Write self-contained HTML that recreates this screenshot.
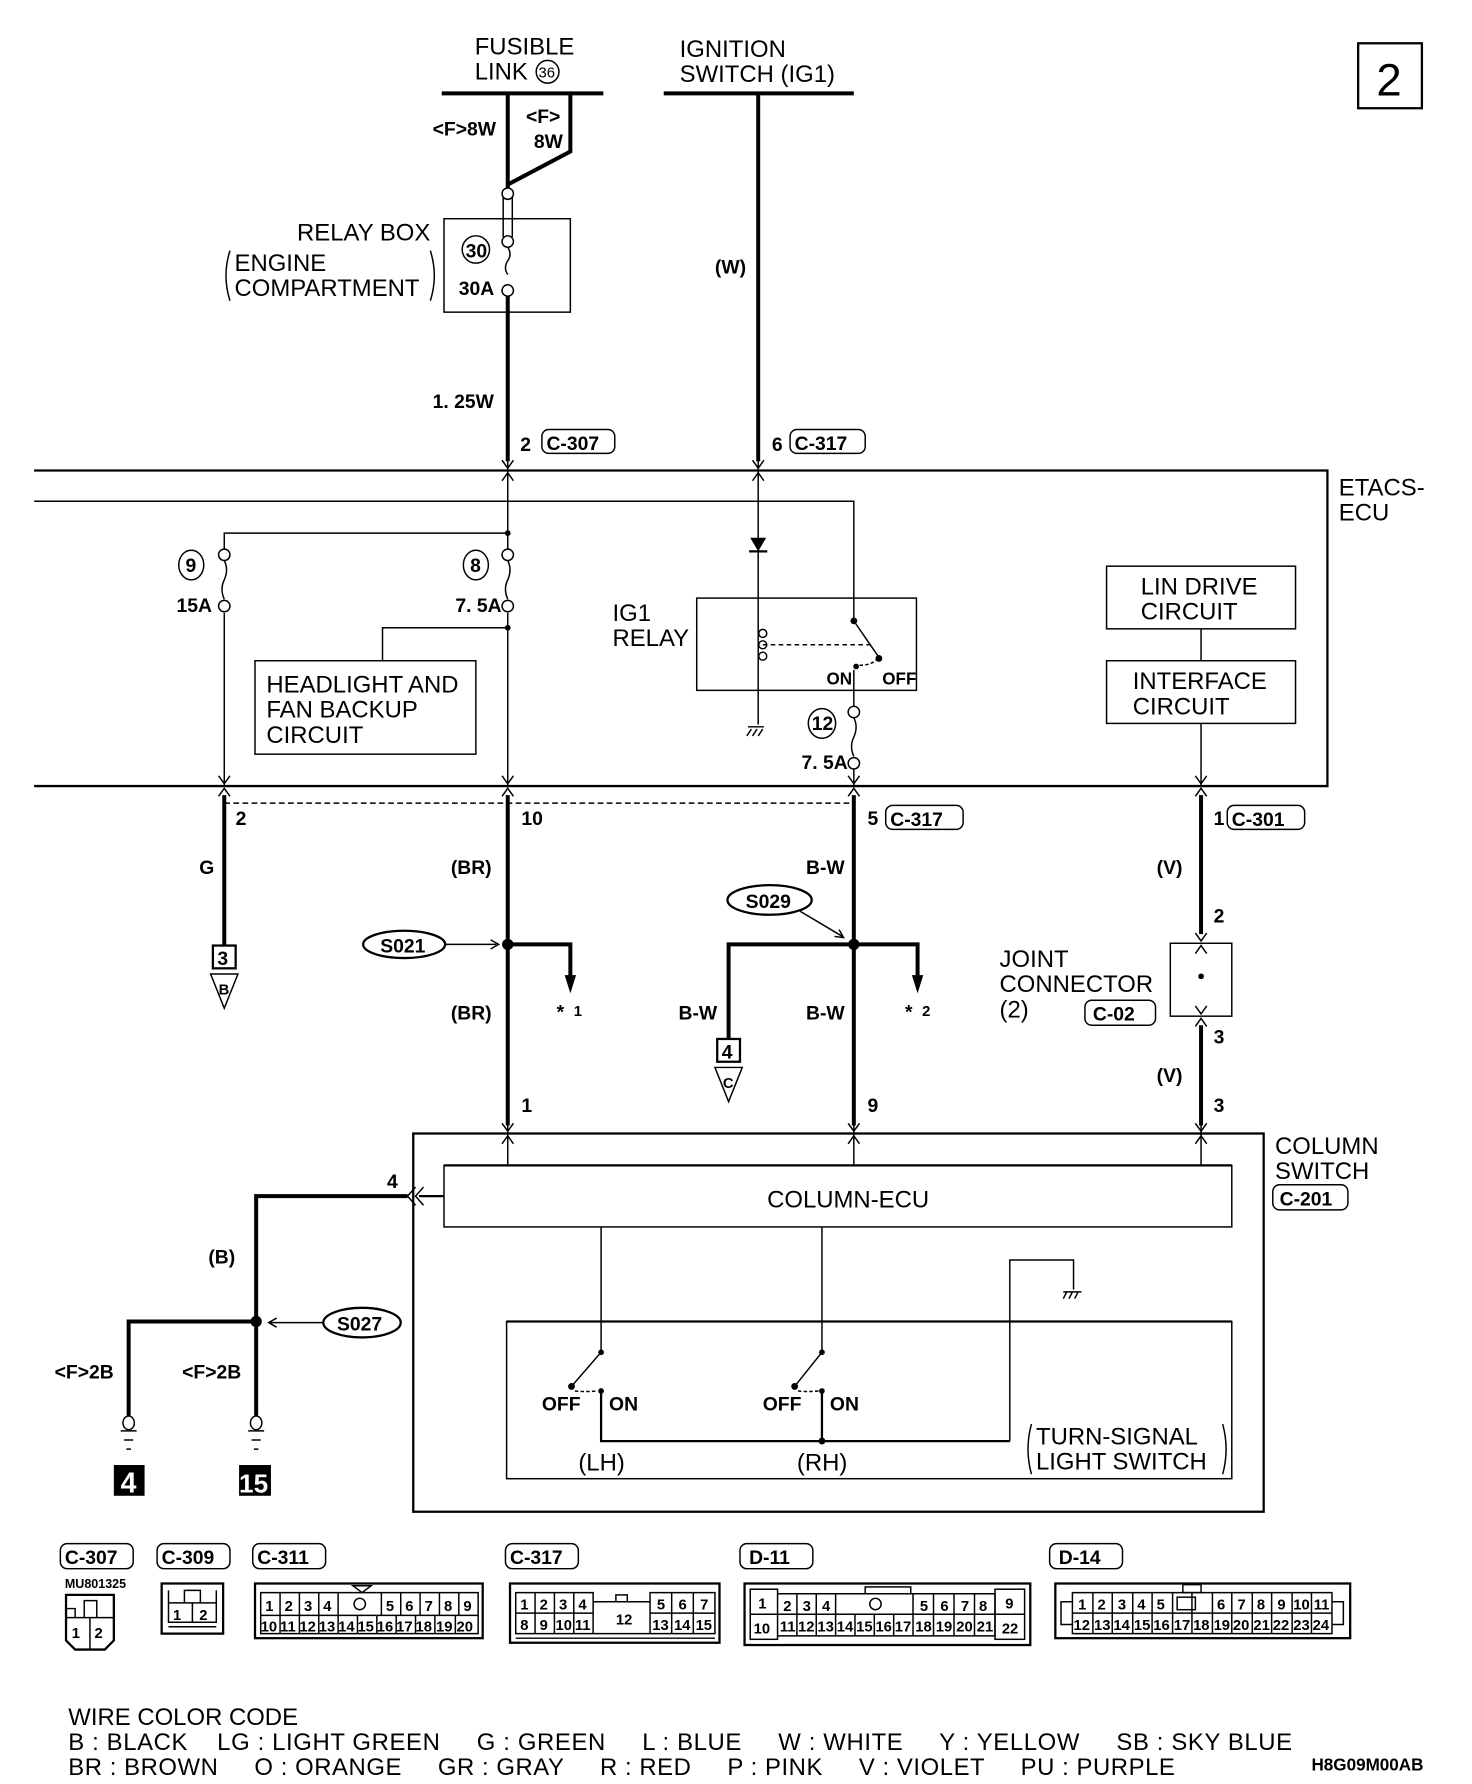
<!DOCTYPE html>
<html><head><meta charset="utf-8"><style>
html,body{margin:0;padding:0;background:#fff}
svg{display:block}
text{font-family:"Liberation Sans",sans-serif;fill:#000}
.t{font-size:21px}
.b{font-size:17px;font-weight:bold}
.s{font-size:13px;font-weight:bold}
.th{stroke:#000;stroke-width:3.5;fill:none}
.tn{stroke:#000;stroke-width:1.3;fill:none}
.md{stroke:#000;stroke-width:2;fill:none}
</style></head><body>
<svg width="1472" height="1784" viewBox="0 0 1293 1566" preserveAspectRatio="none" xmlns="http://www.w3.org/2000/svg">
<defs>
<g id="ch"><path d="M-5,-9 L0,-2 L5,-9 M-5,9 L0,2 L5,9" class="tn"/></g>
</defs>
<rect x="1193" y="38" width="56" height="57" class="md"/>
<text x="1209" y="84" style="font-size:40px">2</text>

<text x="417" y="48" class="t">FUSIBLE</text>
<text x="417" y="70" class="t">LINK</text>
<circle cx="481" cy="63" r="10" class="tn"/><text x="473" y="68" style="font-size:13px">36</text>
<text x="597" y="50" class="t">IGNITION</text>
<text x="597" y="72" class="t">SWITCH (IG1)</text>
<line x1="388" y1="82" x2="530" y2="82" class="th"/>
<line x1="583" y1="82" x2="750" y2="82" class="th"/>

<path d="M446,82 V165" class="th"/>
<path d="M501,82 V133 L446,162" class="th"/>
<text x="380" y="119" class="b">&lt;F&gt;8W</text>
<text x="462" y="108" class="b">&lt;F&gt;</text>
<text x="469" y="130" class="b">8W</text>
<rect x="390" y="192" width="111" height="82" class="tn"/>
<circle cx="446" cy="170" r="5" class="tn"/>
<path d="M442,173 V208 M450,173 V208" class="tn"/>
<circle cx="446" cy="212" r="5" class="tn"/>
<path d="M446,217 q4,6 0,12 q-4,6 0,12" class="tn"/>
<circle cx="446" cy="255" r="5" class="tn"/>
<circle cx="418" cy="219" r="12" class="tn"/><text x="409" y="226" class="b">30</text>
<text x="403" y="259" class="b">30A</text>
<text x="378" y="211" class="t" text-anchor="end">RELAY BOX</text>
<text x="206" y="238" class="t">ENGINE</text>
<text x="206" y="260" class="t">COMPARTMENT</text>
<path d="M202,220 q-7,22 0,44 M378,220 q7,22 0,44" class="tn"/>
<path d="M446,260 V405" class="th"/>
<text x="380" y="358" class="b">1. 25W</text>
<text x="457" y="396" class="b">2</text>
<rect x="476" y="377" width="64" height="21" rx="6" class="tn"/><text x="480" y="395" class="b">C-307</text>

<path d="M666,82 V405" class="th"/>
<text x="628" y="240" class="b">(W)</text>
<text x="678" y="396" class="b">6</text>
<rect x="694" y="377" width="66" height="21" rx="6" class="tn"/><text x="698" y="395" class="b">C-317</text>

<path d="M30,413 H1166 V690 H30" class="md"/>
<path d="M30,440 H750 V545" class="tn"/>
<text x="1176" y="435" class="t">ETACS-</text>
<text x="1176" y="457" class="t">ECU</text>
<use href="#ch" x="446" y="413"/><use href="#ch" x="666" y="413"/>
<path d="M446,405 V482 M446,538 V690 M666,405 V636" class="tn"/>
<path d="M446,468 H197 V482 M197,538 V690" class="tn"/>
<circle cx="446" cy="468" r="2.5"/>
<circle cx="197" cy="487" r="5" class="tn"/><path d="M197,492 q4,8 0,17 q-4,8 0,17" class="tn"/><circle cx="197" cy="532" r="5" class="tn"/>
<circle cx="446" cy="487" r="5" class="tn"/><path d="M446,492 q4,8 0,17 q-4,8 0,17" class="tn"/><circle cx="446" cy="532" r="5" class="tn"/>
<ellipse cx="168" cy="496" rx="11" ry="13" class="tn"/><text x="163" y="502" class="b">9</text>
<ellipse cx="418" cy="496" rx="11" ry="13" class="tn"/><text x="413" y="502" class="b">8</text>
<text x="155" y="537" class="b">15A</text>
<text x="400" y="537" class="b">7. 5A</text>
<circle cx="446" cy="551" r="2.5"/>
<path d="M446,551 H336 V580" class="tn"/>
<rect x="224" y="580" width="194" height="82" class="tn"/>
<text x="234" y="608" class="t">HEADLIGHT AND</text>
<text x="234" y="630" class="t">FAN BACKUP</text>
<text x="234" y="652" class="t">CIRCUIT</text>
<path d="M659,472 H673 L666,484 Z"/><line x1="658" y1="484" x2="674" y2="484" class="md"/>
<rect x="612" y="525" width="193" height="81" class="tn"/>
<text x="538" y="545" class="t">IG1</text>
<text x="538" y="567" class="t">RELAY</text>
<circle cx="670" cy="556" r="3.5" class="tn"/><circle cx="670" cy="566" r="3.5" class="tn"/><circle cx="670" cy="576" r="3.5" class="tn"/>
<path d="M670,566 H765" class="tn" stroke-dasharray="4,3"/>
<path d="M660,640 l-4,6 M665,640 l-4,6 M670,640 l-4,6 M657,638 H671" class="tn"/>
<circle cx="750" cy="545" r="3"/><path d="M750,545 L772,577" class="tn"/><circle cx="772" cy="578" r="3"/>
<circle cx="752" cy="585" r="2.5"/><path d="M755,584 q10,0 15,-5" class="tn" stroke-dasharray="3,2"/>
<text x="726" y="601" class="s" style="font-size:15px">ON</text>
<text x="775" y="601" class="s" style="font-size:15px">OFF</text>
<path d="M750,588 V620 M750,675 V690" class="tn"/>
<circle cx="750" cy="625" r="5" class="tn"/><path d="M750,630 q4,8 0,17 q-4,8 0,17" class="tn"/><circle cx="750" cy="670" r="5" class="tn"/>
<ellipse cx="722" cy="635" rx="12" ry="13" class="tn"/><text x="713" y="641" class="b">12</text>
<text x="704" y="675" class="b">7. 5A</text>
<rect x="972" y="497" width="166" height="55" class="tn"/>
<text x="1002" y="522" class="t">LIN DRIVE</text><text x="1002" y="544" class="t">CIRCUIT</text>
<rect x="972" y="580" width="166" height="55" class="tn"/>
<text x="995" y="605" class="t">INTERFACE</text><text x="995" y="627" class="t">CIRCUIT</text>
<path d="M1055,552 V580 M1055,635 V690" class="tn"/>

<use href="#ch" x="197" y="690"/><use href="#ch" x="446" y="690"/><use href="#ch" x="750" y="690"/><use href="#ch" x="1055" y="690"/>
<path d="M197,705 H750" class="tn" stroke-dasharray="5,3"/>
<path d="M197,698 V830" class="th"/>
<text x="207" y="724" class="b">2</text>
<text x="175" y="767" class="b">G</text>
<rect x="187" y="830" width="20" height="20" class="md"/><text x="191" y="847" class="b">3</text>
<path d="M185,855 H209 L197,885 Z" class="tn"/><text x="192" y="873" class="s">B</text>

<path d="M446,698 V988" class="th"/>
<text x="458" y="724" class="b">10</text>
<text x="396" y="767" class="b">(BR)</text>
<ellipse cx="355" cy="829" rx="36" ry="12" class="md"/><text x="334" y="836" class="b">S021</text>
<path d="M391,829 H436 M431,825 L438,829 L431,833" class="tn"/>
<circle cx="446" cy="829" r="5"/>
<path d="M446,829 H501 V858" class="th"/><path d="M496,856 H506 L501,872 Z"/>
<text x="489" y="894" class="b">*</text><text x="504" y="892" class="s">1</text>
<text x="396" y="895" class="b">(BR)</text>
<text x="458" y="976" class="b">1</text>

<path d="M750,698 V988" class="th"/>
<text x="762" y="724" class="b">5</text>
<rect x="778" y="707" width="68" height="21" rx="6" class="tn"/><text x="782" y="725" class="b">C-317</text>
<text x="708" y="767" class="b">B-W</text>
<ellipse cx="676" cy="790" rx="37" ry="13" class="md"/><text x="655" y="797" class="b">S029</text>
<path d="M703,800 L740,822 M733,822 L741,823 L737,816" class="tn"/>
<circle cx="750" cy="829" r="5"/>
<path d="M640,912 V829 H806 V858" class="th"/><path d="M801,856 H811 L806,872 Z"/>
<text x="795" y="894" class="b">*</text><text x="810" y="892" class="s">2</text>
<rect x="630" y="912" width="20" height="20" class="md"/><text x="634" y="929" class="b">4</text>
<path d="M628,937 H652 L640,967 Z" class="tn"/><text x="635" y="955" class="s">C</text>
<text x="596" y="895" class="b">B-W</text>
<text x="708" y="895" class="b">B-W</text>
<text x="762" y="976" class="b">9</text>

<path d="M1055,698 V820" class="th"/>
<text x="1066" y="724" class="b">1</text>
<rect x="1078" y="707" width="68" height="21" rx="6" class="tn"/><text x="1082" y="725" class="b">C-301</text>
<text x="1016" y="767" class="b">(V)</text>
<text x="1066" y="810" class="b">2</text>
<use href="#ch" x="1055" y="828"/>
<rect x="1028" y="828" width="54" height="64" class="tn"/><circle cx="1055" cy="857" r="2.5"/>
<use href="#ch" x="1055" y="892"/>
<path d="M1055,900 V988" class="th"/>
<text x="878" y="849" class="t">JOINT</text><text x="878" y="871" class="t">CONNECTOR</text><text x="878" y="893" class="t">(2)</text>
<rect x="953" y="878" width="62" height="22" rx="6" class="tn"/><text x="960" y="896" class="b">C-02</text>
<text x="1066" y="916" class="b">3</text>
<text x="1016" y="950" class="b">(V)</text>
<text x="1066" y="976" class="b">3</text>

<rect x="363" y="995" width="747" height="332" class="md"/>
<text x="1120" y="1013" class="t">COLUMN</text><text x="1120" y="1035" class="t">SWITCH</text>
<rect x="1118" y="1040" width="66" height="22" rx="6" class="tn"/><text x="1124" y="1058" class="b">C-201</text>
<use href="#ch" x="446" y="995"/><use href="#ch" x="750" y="995"/><use href="#ch" x="1055" y="995"/>
<path d="M446,988 V1023 M750,988 V1023 M1055,988 V1023" class="tn"/>
<rect x="390" y="1023" width="692" height="54" class="tn"/><line x1="390" y1="1023" x2="1082" y2="1023" class="md"/>
<text x="745" y="1060" class="t" text-anchor="middle">COLUMN-ECU</text>
<path d="M390,1050 H368" class="md"/>
<path d="M365,1042 L358,1050 L365,1058 M372,1042 L365,1050 L372,1058" class="tn"/>
<text x="340" y="1043" class="b">4</text>
<path d="M358,1050 H225 V1243 M225,1160 H113 V1243" class="th"/>
<text x="183" y="1109" class="b">(B)</text>
<circle cx="225" cy="1160" r="5"/>
<ellipse cx="318" cy="1161" rx="34" ry="13" class="md"/><text x="296" y="1168" class="b">S027</text>
<path d="M284,1161 H237 M243,1157 L236,1161 L243,1165" class="tn"/>
<text x="48" y="1210" class="b">&lt;F&gt;2B</text>
<text x="160" y="1210" class="b">&lt;F&gt;2B</text>
<ellipse cx="113" cy="1249" rx="5" ry="6" class="tn"/><path d="M106,1256 H120 M109,1264 H117 M111,1272 H115" class="tn"/>
<ellipse cx="225" cy="1249" rx="5" ry="6" class="tn"/><path d="M218,1256 H232 M221,1264 H229 M223,1272 H227" class="tn"/>
<rect x="100" y="1286" width="27" height="27"/><text x="106" y="1310" style="font-size:25px;font-weight:bold;fill:#fff">4</text>
<rect x="210" y="1286" width="28" height="27"/><text x="210" y="1310" style="font-size:23px;font-weight:bold;fill:#fff">15</text>

<rect x="445" y="1160" width="637" height="138" class="tn"/><line x1="445" y1="1160" x2="1082" y2="1160" class="md"/>
<path d="M528,1077 V1187 L502,1217 M722,1077 V1187 L698,1217" class="tn"/>
<circle cx="528" cy="1187" r="2.5"/><circle cx="502" cy="1217" r="3"/><circle cx="528" cy="1221" r="2.5"/>
<circle cx="722" cy="1187" r="2.5"/><circle cx="698" cy="1217" r="3"/><circle cx="722" cy="1221" r="2.5"/>
<path d="M505,1221 q8,1 20,0 M701,1221 q8,1 18,0" class="tn" stroke-dasharray="3,2"/>
<text x="476" y="1238" class="b">OFF</text><text x="535" y="1238" class="b">ON</text>
<text x="670" y="1238" class="b">OFF</text><text x="729" y="1238" class="b">ON</text>
<path d="M528,1221 V1265 H887 M722,1221 V1265" class="md"/>
<circle cx="722" cy="1265" r="3"/>
<path d="M887,1265 V1106 H943 V1132" class="tn"/>
<path d="M934,1134 H950 M937,1134 l-3,6 M942,1134 l-3,6 M947,1134 l-3,6" class="tn"/>
<text x="508" y="1291" class="t">(LH)</text><text x="700" y="1291" class="t">(RH)</text>
<text x="910" y="1268" class="t">TURN-SIGNAL</text><text x="910" y="1290" class="t">LIGHT SWITCH</text>
<path d="M906,1250 q-6,22 0,44 M1074,1250 q6,22 0,44" class="tn"/>

<g class="b">
<rect x="53" y="1355" width="64" height="22" rx="6" class="tn"/><text x="57" y="1373" class="b">C-307</text>
<rect x="138" y="1355" width="64" height="22" rx="6" class="tn"/><text x="142" y="1373" class="b">C-309</text>
<rect x="222" y="1355" width="64" height="22" rx="6" class="tn"/><text x="226" y="1373" class="b">C-311</text>
<rect x="444" y="1355" width="64" height="22" rx="6" class="tn"/><text x="448" y="1373" class="b">C-317</text>
<rect x="650" y="1355" width="64" height="22" rx="6" class="tn"/><text x="658" y="1373" class="b">D-11</text>
<rect x="922" y="1355" width="64" height="22" rx="6" class="tn"/><text x="930" y="1373" class="b">D-14</text>
</g>
<text x="57" y="1394" style="font-size:11px;font-weight:bold">MU801325</text>
<path d="M58,1400 H100 V1440 L92,1448 H66 L58,1440 Z" class="md"/>
<path d="M58,1420 H100 M79,1420 V1448 M74,1420 V1405 H85 V1420 M58,1412 H66 V1420" class="tn"/>
<text x="63" y="1438" class="s">1</text><text x="83" y="1438" class="s">2</text>
<rect x="142" y="1390" width="54" height="44" class="md"/>
<path d="M148,1396 V1424 H190 V1396 M148,1407 H190 M169,1407 V1424 M162,1407 V1396 H176 V1407 M148,1428 H190" class="tn"/>
<text x="152" y="1422" class="s">1</text><text x="175" y="1422" class="s">2</text>

<rect x="224" y="1390" width="200" height="48" class="md"/>
<path d="M229,1398 H420 V1434 H229 Z M229,1418 H420" class="tn"/>
<path d="M246,1398V1418M263,1398V1418M280,1398V1418M297,1398V1418M335,1398V1418M352,1398V1418M369,1398V1418M386,1398V1418M403,1398V1418" class="tn"/>
<path d="M246,1418V1434M263,1418V1434M280,1418V1434M297,1418V1434M314,1418V1434M331,1418V1434M348,1418V1434M365,1418V1434M382,1418V1434M400,1418V1434" class="tn"/>
<path d="M310,1392 H326 L318,1398 Z" class="tn"/><circle cx="316" cy="1408" r="5" class="tn"/>
<g class="s"><text x="233" y="1414">1</text><text x="250" y="1414">2</text><text x="267" y="1414">3</text><text x="284" y="1414">4</text><text x="339" y="1414">5</text><text x="356" y="1414">6</text><text x="373" y="1414">7</text><text x="390" y="1414">8</text><text x="407" y="1414">9</text>
<text x="229" y="1432">10</text><text x="246" y="1432">11</text><text x="263" y="1432">12</text><text x="280" y="1432">13</text><text x="297" y="1432">14</text><text x="314" y="1432">15</text><text x="331" y="1432">16</text><text x="348" y="1432">17</text><text x="365" y="1432">18</text><text x="383" y="1432">19</text><text x="401" y="1432">20</text></g>

<rect x="448" y="1390" width="184" height="52" class="md"/>
<path d="M453,1398 H521 V1434 H453 Z M571,1398 H628 V1434 H571 Z M453,1416 H521 M571,1416 H628 M521,1406 H571 M453,1434 H628 M453,1438 H628" class="tn"/>
<path d="M470,1398V1434M487,1398V1434M504,1398V1434M590,1398V1434M609,1398V1434" class="tn"/>
<rect x="541" y="1400" width="10" height="6" class="tn"/>
<g class="s"><text x="457" y="1413">1</text><text x="474" y="1413">2</text><text x="491" y="1413">3</text><text x="508" y="1413">4</text><text x="577" y="1413">5</text><text x="596" y="1413">6</text><text x="615" y="1413">7</text>
<text x="457" y="1431">8</text><text x="474" y="1431">9</text><text x="488" y="1431">10</text><text x="505" y="1431">11</text><text x="541" y="1426">12</text><text x="573" y="1431">13</text><text x="592" y="1431">14</text><text x="611" y="1431">15</text></g>

<rect x="654" y="1390" width="251" height="54" class="md"/>
<rect x="659" y="1395" width="24" height="44" class="tn"/><rect x="874" y="1395" width="26" height="44" class="tn"/>
<path d="M683,1399 H874 V1436 H683 M683,1417 H874 M659,1417 H683 M874,1417 H900" class="tn"/>
<path d="M700,1399V1436M717,1399V1436M734,1399V1417M802,1399V1417M820,1399V1436M838,1399V1436M856,1399V1436" class="tn"/>
<path d="M734,1417V1436M751,1417V1436M768,1417V1436M785,1417V1436M802,1417V1436" class="tn"/>
<rect x="760" y="1393" width="40" height="6" class="tn"/><circle cx="769" cy="1408" r="5" class="tn"/>
<g class="s"><text x="666" y="1412">1</text><text x="688" y="1414">2</text><text x="705" y="1414">3</text><text x="722" y="1414">4</text><text x="808" y="1414">5</text><text x="826" y="1414">6</text><text x="844" y="1414">7</text><text x="860" y="1414">8</text><text x="883" y="1412">9</text>
<text x="662" y="1434">10</text><text x="685" y="1432">11</text><text x="701" y="1432">12</text><text x="718" y="1432">13</text><text x="735" y="1432">14</text><text x="752" y="1432">15</text><text x="769" y="1432">16</text><text x="786" y="1432">17</text><text x="804" y="1432">18</text><text x="822" y="1432">19</text><text x="840" y="1432">20</text><text x="858" y="1432">21</text><text x="880" y="1434">22</text></g>

<rect x="927" y="1390" width="259" height="48" class="md"/>
<path d="M942,1398 H1170 V1434 H942 Z M942,1416 H1170 M942,1406 H932 V1426 H942 M1170,1406 H1180 V1426 H1170" class="tn"/>
<path d="M960,1398V1434M977,1398V1434M995,1398V1434M1012,1398V1434M1030,1398V1434M1047,1398V1434M1065,1398V1434M1082,1398V1434M1100,1398V1434M1117,1398V1434M1135,1398V1434M1152,1398V1434" class="tn"/>
<rect x="1039" y="1391" width="16" height="7" class="tn"/><rect x="1034" y="1402" width="16" height="11" class="tn"/>
<g class="s"><text x="947" y="1413">1</text><text x="964" y="1413">2</text><text x="982" y="1413">3</text><text x="999" y="1413">4</text><text x="1016" y="1413">5</text><text x="1069" y="1413">6</text><text x="1087" y="1413">7</text><text x="1104" y="1413">8</text><text x="1122" y="1413">9</text><text x="1136" y="1413">10</text><text x="1154" y="1413">11</text>
<text x="943" y="1431">12</text><text x="961" y="1431">13</text><text x="978" y="1431">14</text><text x="996" y="1431">15</text><text x="1013" y="1431">16</text><text x="1031" y="1431">17</text><text x="1048" y="1431">18</text><text x="1066" y="1431">19</text><text x="1083" y="1431">20</text><text x="1101" y="1431">21</text><text x="1118" y="1431">22</text><text x="1136" y="1431">23</text><text x="1153" y="1431">24</text></g>

<text x="60" y="1514" class="t">WIRE COLOR CODE</text>
<text x="60" y="1536" class="t" xml:space="preserve" textLength="1075" lengthAdjust="spacing">B : BLACK    LG : LIGHT GREEN     G : GREEN     L : BLUE     W : WHITE     Y : YELLOW     SB : SKY BLUE</text>
<text x="60" y="1558" class="t" xml:space="preserve" textLength="972" lengthAdjust="spacing">BR : BROWN     O : ORANGE     GR : GRAY     R : RED     P : PINK     V : VIOLET     PU : PURPLE</text>
<text x="1152" y="1554" style="font-size:15px;font-weight:bold">H8G09M00AB</text>
</svg>
</body></html>
